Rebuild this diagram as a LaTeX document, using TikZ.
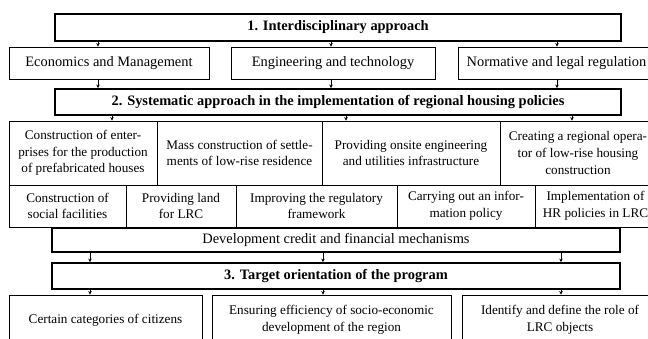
\documentclass[tikz,border=0pt]{standalone}
\usepackage{fontspec}
\setmainfont{Liberation Serif}
\usetikzlibrary{arrows.meta}
\newcommand\fbig{\fontsize{14.4}{16.7}\selectfont}
\newcommand\fcell{\fontsize{13.2}{16.7}\selectfont}
\tikzset{
  hbox/.style={draw, line width=1.8pt, inner sep=0pt, font=\fbig\bfseries, align=center},
  sbox/.style={draw, line width=0.9pt, inner sep=0pt, font=\fbig, align=center},
  dbox/.style={draw, line width=1.2pt, inner sep=0pt, font=\fbig, align=center},
  cell/.style={draw, line width=0.9pt, inner sep=0pt, font=\fcell, align=center},
  arr/.style={-{Stealth[length=3.5pt,width=3.5pt]}, line width=0.8pt}
}
\begin{document}
\begin{tikzpicture}[x=1pt,y=-1pt]
\clip (0,0) rectangle (648,338);
\fill[white] (0,0) rectangle (648,338);
% row 1
\node[hbox, minimum width=566pt, minimum height=27pt] (b1) at (338,27.5) {1. Interdisciplinary approach};
% row 2
\node[sbox, minimum width=200pt, minimum height=32pt] (e1) at (109,63) {Economics and Management};
\node[sbox, minimum width=204pt, minimum height=32pt] (e2) at (333,63) {Engineering and technology};
\node[sbox, minimum width=197pt, minimum height=32pt] (e3) at (556.5,63) {Normative and legal regulation};
% box 2
\node[hbox, minimum width=566pt, minimum height=26pt] (b2) at (338,102) {2. Systematic approach in the implementation of regional housing policies};
% grid row A
\node[cell, minimum width=148pt, minimum height=64pt] (a1) at (83,153) {Construction of enter-\\prises for the production\\of prefabricated houses};
\node[cell, minimum width=165pt, minimum height=64pt] (a2) at (239.5,153) {Mass construction of settle-\\ments of low-rise residence};
\node[cell, minimum width=178pt, minimum height=64pt] (a3) at (411,153) {Providing onsite engineering\\and utilities infrastructure};
\node[cell, minimum width=156pt, minimum height=64pt] (a4) at (578,153) {Creating a regional opera-\\tor of low-rise housing\\construction};
% grid row B
\node[cell, minimum width=117pt, minimum height=42pt] (c1) at (67.5,206) {Construction of\\social facilities};
\node[cell, minimum width=110pt, minimum height=42pt] (c2) at (181,206) {Providing land\\for LRC};
\node[cell, minimum width=161pt, minimum height=42pt] (c3) at (316.5,206) {Improving the regulatory\\framework};
\node[cell, minimum width=138pt, minimum height=42pt] (c4) at (466,206) {Carrying out an infor-\\mation policy};
\node[cell, minimum width=121pt, minimum height=42pt] (c5) at (595.5,206) {Implementation of\\HR policies in LRC};
% development box
\node[dbox, minimum width=568pt, minimum height=24pt] (dv) at (336,240) {Development credit and financial mechanisms};
% box 3
\node[hbox, minimum width=568pt, minimum height=26pt] (b3) at (336,276) {3. Target orientation of the program};
% row C
\node[cell, minimum width=193pt, minimum height=50pt] (t1) at (105.5,320) {Certain categories of citizens};
\node[cell, minimum width=239pt, minimum height=50pt] (t2) at (331.5,320) {Ensuring efficiency of socio-economic\\development of the region};
\node[cell, minimum width=196pt, minimum height=50pt] (t3) at (560,320) {Identify and define the role of\\LRC objects};
% connector x positions
\coordinate (p1) at (98,0);
\coordinate (p2) at (331,0);
\coordinate (p3) at (557,0);
\coordinate (q1) at (112,0);
\coordinate (q2) at (346,0);
\coordinate (q3) at (572,0);
\coordinate (r1) at (90,0);
\coordinate (r2) at (323,0);
\coordinate (r3) at (561,0);
% connectors
\draw[arr] (p1 |- b1.south) -- (p1 |- e1.north);
\draw[arr] (p2 |- b1.south) -- (p2 |- e2.north);
\draw[arr] (p3 |- b1.south) -- (p3 |- e3.north);
\draw[arr] (p1 |- e1.south) -- (p1 |- b2.north);
\draw[arr] (p2 |- e2.south) -- (p2 |- b2.north);
\draw[arr] (p3 |- e3.south) -- (p3 |- b2.north);
\draw[arr] (q1 |- b2.south) -- (q1 |- a1.north);
\draw[arr] (q2 |- b2.south) -- (q2 |- a3.north);
\draw[arr] (q3 |- b2.south) -- (q3 |- a4.north);
\draw[arr] (r1 |- dv.south) -- (r1 |- b3.north);
\draw[arr] (r2 |- dv.south) -- (r2 |- b3.north);
\draw[arr] (r3 |- dv.south) -- (r3 |- b3.north);
\draw[arr] (r1 |- b3.south) -- (r1 |- t1.north);
\draw[arr] (r2 |- b3.south) -- (r2 |- t2.north);
\draw[arr] (r3 |- b3.south) -- (r3 |- t3.north);
\end{tikzpicture}
\end{document}
